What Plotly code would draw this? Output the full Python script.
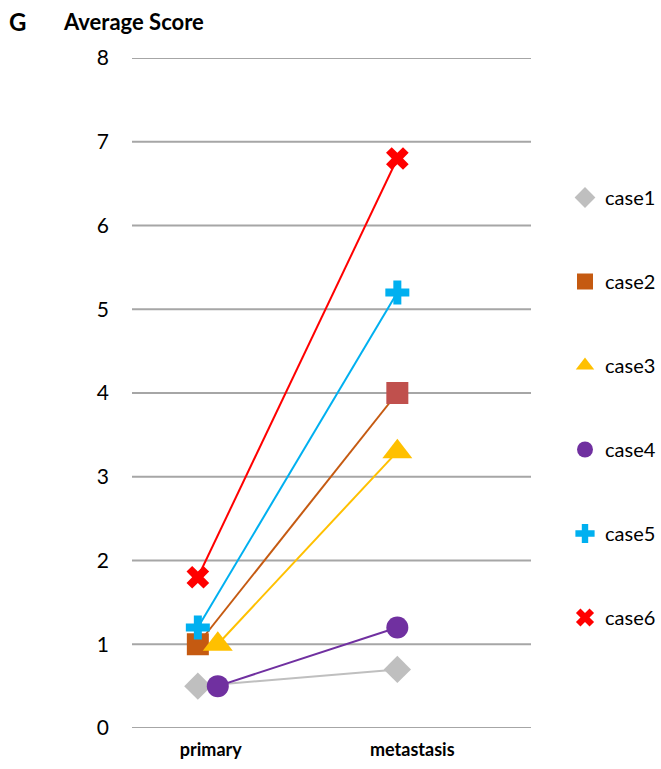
import plotly.graph_objects as go

categories = ["primary", "metastasis"]
cases = ["case1", "case2", "case3", "case4", "case5", "case6"]
primary = [0.5, 1.0, 1.0, 0.5, 1.2, 1.8]
metastasis = [0.7, 4.0, 3.3, 1.2, 5.2, 6.8]
primary_offset = [0.0, 0.0, 0.1, 0.1, 0.0, 0.0]
y_ticks = [0, 1, 2, 3, 4, 5, 6, 7, 8]

line_colors = ["#BFBFBF", "#C55A11", "#FFC000", "#7030A0", "#00B0F0", "#FF0000"]
marker_colors_primary = ["#BFBFBF", "#C55A11", "#FFC000", "#7030A0", "#00B0F0", "#FF0000"]
marker_colors_meta = ["#BFBFBF", "#C0504D", "#FFC000", "#7030A0", "#00B0F0", "#FF0000"]
symbols = ["diamond", "square", "triangle-up", "circle", "cross", "x"]
sizes = [21, 22, 26, 22, 20, 20]

fig = go.Figure()
for i, name in enumerate(cases):
    xs = [0 + primary_offset[i], 1]
    ys = [primary[i], metastasis[i]]
    fig.add_trace(go.Scatter(
        x=xs, y=ys, mode="lines", line=dict(color=line_colors[i], width=2),
        showlegend=False, hoverinfo="skip"))
for i, name in enumerate(cases):
    xs = [0 + primary_offset[i], 1]
    ys = [primary[i], metastasis[i]]
    fig.add_trace(go.Scatter(
        x=xs, y=ys, mode="markers", name=name, legendgroup=name,
        marker=dict(symbol=symbols[i], size=sizes[i],
                    color=[marker_colors_primary[i], marker_colors_meta[i]],
                    line=dict(width=0))))

# horizontal grid lines (including the ones on the plot edges)
for t in y_ticks:
    fig.add_shape(type="line", xref="paper", yref="y", x0=0, x1=1, y0=t, y1=t,
                  line=dict(color="#A6A6A6", width=2), layer="below")

pw = 661 - 132 - 130
ph = 769 - 58 - 41

fig.update_layout(
    width=661, height=769,
    margin=dict(l=132, r=130, t=58, b=41, autoexpand=False),
    paper_bgcolor="white", plot_bgcolor="white",
    font=dict(family="Lato, Open Sans, sans-serif", color="black"),
    showlegend=True,
    legend=dict(x=(565 - 132) / pw, y=1 - (178 - 58) / ph, xanchor="left", yanchor="top",
                font=dict(size=20), tracegroupgap=55, itemsizing="trace",
                itemwidth=30, bgcolor="rgba(0,0,0,0)"),
    xaxis=dict(range=[-0.33, 1.67], tickvals=[0.065, 1.075], ticktext=categories,
               showgrid=False, zeroline=False, showline=False, ticks="",
               tickfont=dict(size=18, family="Lato, sans-serif", weight="bold"),
               ticklabelstandoff=9),
    yaxis=dict(range=[0, 8], tickvals=y_ticks, showgrid=False,
               zeroline=False, showline=False, ticks="",
               tickfont=dict(size=21), ticklabelstandoff=22),
    annotations=[
        dict(text="<b>G</b>", x=(7 - 132) / pw, y=1 + (58 - 5) / ph,
             xref="paper", yref="paper",
             xanchor="left", yanchor="top", showarrow=False,
             font=dict(size=24)),
        dict(text="<b>Average Score</b>", x=(61 - 132) / pw, y=1 + (58 - 6) / ph,
             xref="paper", yref="paper",
             xanchor="left", yanchor="top", showarrow=False,
             font=dict(size=22)),
    ],
)

fig.write_html("out.html")
